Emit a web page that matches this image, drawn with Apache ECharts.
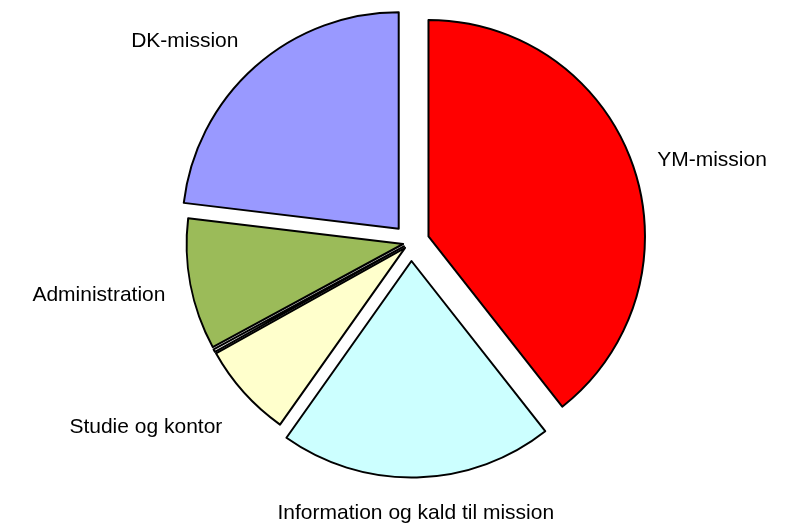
<!DOCTYPE html>
<html>
<head>
<meta charset="utf-8">
<script src="https://cdn.jsdelivr.net/npm/echarts@6/dist/echarts.min.js"></script>
<style>html,body{margin:0;padding:0;background:#fff}</style>
</head>
<body>
<div id="container" style="width:795px;height:524px"></div>
<script>
    var categories = ['YM-mission', 'Information og kald til mission', 'Studie og kontor', '', 'Administration', 'DK-mission'];
    var values = [39.4, 20.4, 7.1, 0.2, 9.8, 23.1];
    var colors = ['#ff0000', '#ccffff', '#ffffcc', '#ffffff', '#9bbb59', '#9999ff'];
    // which slices are pulled out far (group 0) or only a little (group 1)
    var groups = [0, 0, 1, 1, 1, 0];
    var offsets = [18.5, 8];
    // label distances per slice (length, length2) and fine shifts
    var lineLen = [17, 36, 52, 0, 56, 34];
    var lineLen2 = [3, 0, 0, 0, 0, 0];
    var labelDx = [0, -7, 22, 0, 35, 11];

    var dom = document.getElementById('container');
    var myChart = echarts.init(dom);

    function buildData(g) {
        var data = [];
        for (var i = 0; i < categories.length; i++) {
            var on = groups[i] === g;
            data.push({
                name: categories[i],
                value: values[i],
                selected: true,
                itemStyle: on ? {color: colors[i]} : {color: 'rgba(0,0,0,0)', borderWidth: 0},
                label: {show: on && categories[i] !== ''},
                labelLine: {length: lineLen[i], length2: lineLen2[i]}
            });
        }
        return data;
    }

    var series = [];
    for (var g = 0; g < offsets.length; g++) {
        series.push({
            type: 'pie',
            center: [411, 242.5],
            radius: [0, 216.5],
            startAngle: 90,
            clockwise: true,
            selectedMode: 'multiple',
            selectedOffset: offsets[g],
            avoidLabelOverlap: false,
            itemStyle: {borderColor: '#000', borderWidth: 2},
            emphasis: {disabled: true},
            label: {
                position: 'outside',
                color: '#000',
                fontFamily: 'Liberation Sans',
                fontSize: 21
            },
            labelLine: {show: false},
            labelLayout: function (p) {
                var o = {dx: labelDx[p.dataIndex]};
                if (p.dataIndex === 1) o.align = 'center';
                return o;
            },
            data: buildData(g)
        });
    }

    var option = {
        animation: false,
        series: series
    };
    myChart.setOption(option, true);
</script>
</body>
</html>
